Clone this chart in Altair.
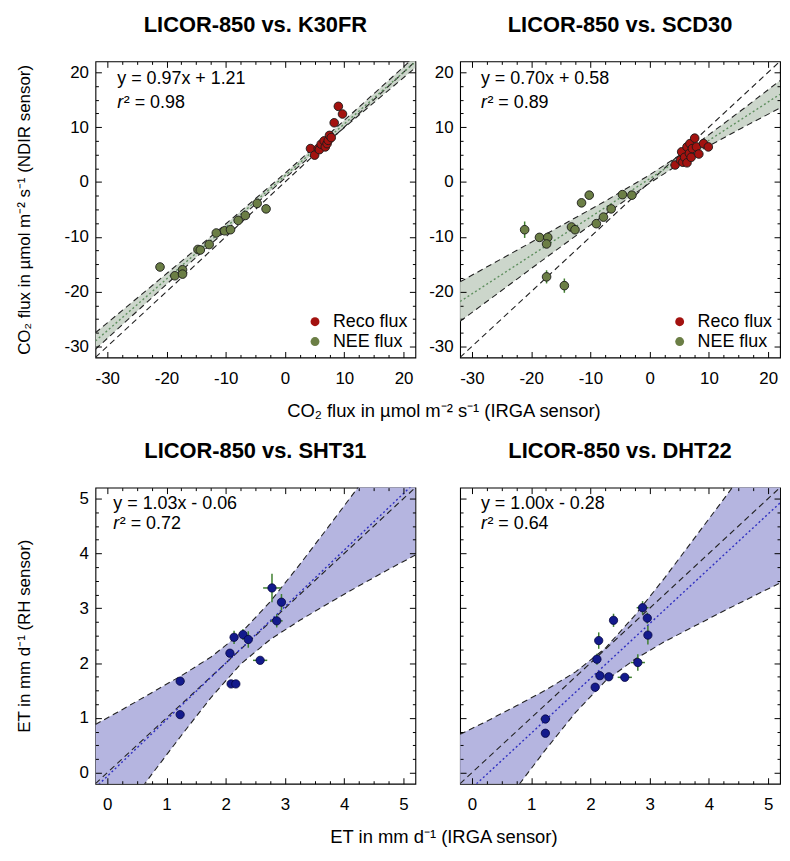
import altair as alt
import pandas as pd

FONT = "Liberation Sans"

# ---------------- data ----------------
# Top-left: LICOR-850 vs. K30FR
k30_nee_x = [-21.1, -18.6, -17.3, -17.3, -14.7, -14.3, -12.8, -11.6, -10.2, -9.2, -7.9, -6.7, -4.7, -3.2]
k30_nee_y = [-15.5, -17.1, -16.0, -16.8, -12.3, -12.4, -11.4, -9.3, -8.9, -8.7, -7.0, -6.1, -3.9, -4.9]
k30_reco_x = [4.3, 5.0, 5.6, 5.8, 6.1, 6.6, 6.8, 7.1, 7.3, 7.5, 7.8, 8.3, 9.0, 9.7]
k30_reco_y = [6.1, 4.9, 6.1, 5.9, 6.9, 7.5, 6.4, 7.0, 7.6, 8.5, 8.1, 10.8, 13.8, 12.4]
k30_band_x = [-32, -24, -16, -8, 0, 8, 16, 22]
k30_band_lo = [-30.5, -22.61, -14.72, -6.93, 0.71, 8.10, 15.39, 20.85]
k30_band_hi = [-27.5, -20.31, -13.12, -5.83, 1.61, 9.30, 17.09, 22.95]
k30_fit_x = [-32, 22]
k30_fit_y = [-29.0, 21.9]

# Top-right: LICOR-850 vs. SCD30
scd_nee_x = [-21.1, -18.6, -17.2, -17.4, -17.4, -14.4, -13.2, -12.6, -11.5, -10.2, -9.0, -7.8, -6.5, -4.6, -3.0]
scd_nee_y = [-8.7, -10.1, -10.1, -11.3, -17.3, -18.9, -8.2, -8.7, -3.8, -2.4, -7.6, -6.4, -4.9, -2.3, -2.4]
scd_nee_yerr = [1.5, 0, 0, 0.6, 1.2, 1.3, 0, 0, 0, 0, 0, 0, 0.4, 0, 0.5]
scd_reco_x = [4.3, 5.2, 5.4, 5.6, 5.9, 6.3, 6.3, 6.7, 6.8, 7.0, 7.2, 7.6, 7.9, 8.3, 9.1, 9.9]
scd_reco_y = [3.1, 4.0, 5.5, 3.6, 4.5, 3.5, 6.4, 5.2, 7.0, 4.5, 6.1, 8.0, 6.4, 5.1, 7.0, 6.4]
scd_band_x = [-32, -24, -16, -8, 0, 8, 16, 22]
scd_band_lo = [-25.4, -19.0, -12.6, -6.3, -0.2, 5.4, 10.1, 13.5]
scd_band_hi = [-18.2, -13.4, -8.6, -3.8, 1.3, 7.0, 13.5, 18.5]
scd_fit_x = [-32, 22]
scd_fit_y = [-21.8, 16.0]

# Bottom-left: LICOR-850 vs. SHT31
sht_x = [1.23, 1.23, 2.07, 2.14, 2.09, 2.17, 2.29, 2.38, 2.58, 2.78, 2.94, 2.86]
sht_y = [1.67, 1.06, 2.18, 2.47, 1.62, 1.62, 2.52, 2.43, 2.05, 3.37, 3.11, 2.77]
sht_xerr = [0.07, 0, 0, 0.04, 0, 0, 0.04, 0, 0.12, 0.15, 0.04, 0.1]
sht_yerr = [0.05, 0, 0.03, 0.12, 0, 0, 0.1, 0.15, 0.04, 0.26, 0.15, 0.12]
et_band_x = [-0.2, 0.25, 0.75, 1.25, 1.75, 2.25, 2.75, 3.25, 3.75, 4.25, 4.75, 5.2]
sht_band_lo = [-1.42, -0.76, -0.03, 0.68, 1.37, 1.98, 2.43, 2.78, 3.10, 3.41, 3.71, 3.97]
sht_band_hi = [0.88, 1.15, 1.46, 1.77, 2.11, 2.54, 3.12, 3.80, 4.51, 5.23, 5.96, 6.62]
sht_fit_x = [-0.2, 5.2]
sht_fit_y = [-0.27, 5.30]

# Bottom-right: LICOR-850 vs. DHT22
dht_x = [1.24, 1.24, 2.11, 2.14, 2.08, 2.16, 2.31, 2.39, 2.58, 2.80, 2.88, 2.96, 2.97]
dht_y = [0.98, 0.72, 2.07, 2.41, 1.56, 1.77, 1.75, 2.78, 1.74, 2.01, 3.01, 2.82, 2.51]
dht_xerr = [0.08, 0, 0.03, 0.03, 0, 0, 0, 0, 0.12, 0.12, 0.1, 0.05, 0.05]
dht_yerr = [0.04, 0, 0.1, 0.15, 0, 0.05, 0, 0.12, 0, 0.15, 0.12, 0.1, 0.17]
dht_band_lo = [-1.66, -1.00, -0.28, 0.43, 1.10, 1.67, 2.07, 2.39, 2.67, 2.95, 3.22, 3.46]
dht_band_hi = [0.70, 0.94, 1.22, 1.51, 1.84, 2.27, 2.87, 3.55, 4.27, 4.99, 5.72, 6.38]
dht_fit_x = [-0.2, 5.2]
dht_fit_y = [-0.48, 4.92]

co2_dom = [-32, 22]
co2_major = [-30, -20, -10, 0, 10, 20]
co2_minor = [-27.5, -25, -22.5, -17.5, -15, -12.5, -7.5, -5, -2.5, 2.5, 5, 7.5, 12.5, 15, 17.5]
et_dom = [-0.2, 5.2]
et_major = [0, 1, 2, 3, 4, 5]
et_minor = [0.25, 0.5, 0.75, 1.25, 1.5, 1.75, 2.25, 2.5, 2.75, 3.25, 3.5, 3.75,
            4.25, 4.5, 4.75]

W, H = 322, 298
LBL = 17
CO2_TXT = "CO\u2082 flux in  \u00b5mol m\u207b\u00b2 s\u207b\u00b9"
ET_TXT = "ET in mm d\u207b\u00b9"


def axis_layers(df, dom, major, minor, ylabels, ytitle):
    sc = alt.Scale(domain=dom, nice=False, zero=False)
    common = dict(domain=False, grid=False, tickColor="black", tickWidth=1,
                  labelColor="black", labelFont=FONT, labelFontSize=LBL, zindex=1)

    def ax(orient, vals, size, **kw):
        d = dict(common)
        d.update(kw)
        return alt.Axis(orient=orient, values=vals, offset=-size, tickSize=size, **d)

    lab_expr = "'' + datum.value"
    lay = []
    lay.append(alt.Chart(df).mark_point(opacity=0).encode(
        x=alt.X("x:Q", scale=sc, axis=ax("bottom", major, 6, labels=True, labelExpr=lab_expr,
                                          labelPadding=13, title=None, minExtent=34, maxExtent=34,
                                          labelFlush=False, labelOverlap=False)),
        y=alt.Y("y:Q", scale=sc, axis=ax("left", major, 6, labels=ylabels, labelExpr=lab_expr,
                                          labelPadding=7, title=ytitle, titleFont=FONT,
                                          titleFontSize=17, titleFontWeight="normal",
                                          titleColor="black", titlePadding=28,
                                          minExtent=40, maxExtent=40, labelFlush=False,
                                          labelOverlap=False)),
    ))
    lay.append(alt.Chart(df).mark_point(opacity=0).encode(
        x=alt.X("x:Q", scale=sc, axis=ax("top", major, 6, labels=False, title=None,
                                          minExtent=0, maxExtent=0)),
        y=alt.Y("y:Q", scale=sc, axis=ax("right", major, 6, labels=False, title=None,
                                          minExtent=0, maxExtent=0)),
    ))
    lay.append(alt.Chart(df).mark_point(opacity=0).encode(
        x=alt.X("x:Q", scale=sc, axis=ax("bottom", minor, 3, labels=False, title=None,
                                          minExtent=0, maxExtent=0)),
        y=alt.Y("y:Q", scale=sc, axis=ax("left", minor, 3, labels=False, title=None,
                                          minExtent=0, maxExtent=0)),
    ))
    lay.append(alt.Chart(df).mark_point(opacity=0).encode(
        x=alt.X("x:Q", scale=sc, axis=ax("top", minor, 3, labels=False, title=None,
                                          minExtent=0, maxExtent=0)),
        y=alt.Y("y:Q", scale=sc, axis=ax("right", minor, 3, labels=False, title=None,
                                          minExtent=0, maxExtent=0)),
    ))
    return lay


def panel(title, dom, major, minor, pts, band, fit, eq, r2, band_color, fit_color,
          ylabels, ytitle, legend, eq_x, eq_y1, eq_y2):
    sc = alt.Scale(domain=dom, nice=False, zero=False)
    layers = []
    layers.append(alt.Chart(band).mark_area(color=band_color, opacity=1, clip=True).encode(
        x=alt.X("x:Q", scale=sc, axis=None),
        y=alt.Y("lo:Q", scale=sc, axis=None), y2="hi:Q"))
    for f in ["lo", "hi"]:
        layers.append(alt.Chart(band).mark_line(color="#222222", strokeWidth=1.1,
                                                strokeDash=[6, 4], clip=True).encode(
            x=alt.X("x:Q", scale=sc, axis=None), y=alt.Y(f + ":Q", scale=sc, axis=None)))
    one = pd.DataFrame({"x": dom, "y": dom})
    layers.append(alt.Chart(one).mark_line(color="#222222", strokeWidth=1.1,
                                           strokeDash=[6, 4], clip=True).encode(
        x=alt.X("x:Q", scale=sc, axis=None), y=alt.Y("y:Q", scale=sc, axis=None)))
    layers.append(alt.Chart(fit).mark_line(color=fit_color, strokeWidth=1.4,
                                           strokeDash=[2, 2.5], clip=True).encode(
        x=alt.X("x:Q", scale=sc, axis=None), y=alt.Y("y:Q", scale=sc, axis=None)))
    ey = pts[pts["yerr"] > 0].copy()
    ey["y1"] = ey["y"] - ey["yerr"]
    ey["y2"] = ey["y"] + ey["yerr"]
    ex = pts[pts["xerr"] > 0].copy()
    ex["x1"] = ex["x"] - ex["xerr"]
    ex["x2"] = ex["x"] + ex["xerr"]
    if len(ey):
        layers.append(alt.Chart(ey).mark_rule(color="#3f7f2f", strokeWidth=1.5).encode(
            x=alt.X("x:Q", scale=sc, axis=None), y=alt.Y("y1:Q", scale=sc, axis=None), y2="y2:Q"))
    if len(ex):
        layers.append(alt.Chart(ex).mark_rule(color="#3f7f2f", strokeWidth=1.5).encode(
            x=alt.X("x1:Q", scale=sc, axis=None), x2="x2:Q", y=alt.Y("y:Q", scale=sc, axis=None)))
    if legend:
        color = alt.Color("type:N",
                          scale=alt.Scale(domain=["Reco flux", "NEE flux"],
                                          range=["#a3120f", "#6b7e45"]),
                          legend=alt.Legend(orient="bottom-right", title=None, labelFont=FONT,
                                            labelFontSize=18, labelColor="black",
                                            symbolType="circle", symbolSize=80,
                                            symbolStrokeWidth=0, symbolOpacity=1,
                                            offset=7, padding=0, rowPadding=2,
                                            labelOffset=9))
        layers.append(alt.Chart(pts).mark_circle(size=75, opacity=1, stroke="#1a1a1a",
                                                 strokeWidth=0.9).encode(
            x=alt.X("x:Q", scale=sc, axis=None), y=alt.Y("y:Q", scale=sc, axis=None),
            color=color))
    else:
        layers.append(alt.Chart(pts).mark_circle(size=70, opacity=1, color="#131a8c",
                                                 stroke="#050540", strokeWidth=0.8).encode(
            x=alt.X("x:Q", scale=sc, axis=None), y=alt.Y("y:Q", scale=sc, axis=None)))
    one_row = pd.DataFrame({"a": [eq], "b": [r2]})
    layers.append(alt.Chart(one_row).mark_text(align="left", baseline="alphabetic", font=FONT,
                                               fontSize=18, color="black").encode(
        x=alt.value(eq_x), y=alt.value(eq_y1), text="a:N"))
    layers.append(alt.Chart(one_row).mark_text(align="left", baseline="alphabetic", font=FONT,
                                               fontSize=18, fontStyle="italic",
                                               color="black").encode(
        x=alt.value(eq_x), y=alt.value(eq_y2), text=alt.value("r")))
    layers.append(alt.Chart(one_row).mark_text(align="left", baseline="alphabetic", font=FONT,
                                               fontSize=18, color="black").encode(
        x=alt.value(eq_x + 6.5), y=alt.value(eq_y2), text="b:N"))
    layers += axis_layers(pts, dom, major, minor, ylabels, ytitle)
    return alt.layer(*layers).resolve_axis(x="independent", y="independent").properties(
        width=W, height=H,
        title=alt.TitleParams(title, font=FONT, fontSize=22, fontWeight="bold", color="black",
                              anchor="middle", frame="group", baseline="alphabetic",
                              offset=7))


def co2_pts(nx, ny, rx, ry, nyerr=None):
    n = len(nx)
    r = len(rx)
    return pd.DataFrame({
        "x": rx + nx, "y": ry + ny,
        "type": ["Reco flux"] * r + ["NEE flux"] * n,
        "xerr": [0.0] * (r + n),
        "yerr": [0.0] * r + (nyerr if nyerr else [0.0] * n),
    })


def band_df(bx, lo, hi):
    return pd.DataFrame({"x": bx, "lo": lo, "hi": hi})


def fit_df(fx, fy):
    return pd.DataFrame({"x": fx, "y": fy})


TOP_BAND = "#ccd6cb"
TOP_FIT = "#5f8f5f"
BOT_BAND = "#b5b5e0"
BOT_FIT = "#2f2fc0"

tl = panel("LICOR-850 vs. K30FR", co2_dom, co2_major, co2_minor,
           co2_pts(k30_nee_x, k30_nee_y, k30_reco_x, k30_reco_y),
           band_df(k30_band_x, k30_band_lo, k30_band_hi), fit_df(k30_fit_x, k30_fit_y),
           "y = 0.97x + 1.21", "\u00b2 = 0.98", TOP_BAND, TOP_FIT, True,
           CO2_TXT + " (NDIR sensor)", True, 22, 23, 47)
tr = panel("LICOR-850 vs. SCD30", co2_dom, co2_major, co2_minor,
           co2_pts(scd_nee_x, scd_nee_y, scd_reco_x, scd_reco_y, scd_nee_yerr),
           band_df(scd_band_x, scd_band_lo, scd_band_hi), fit_df(scd_fit_x, scd_fit_y),
           "y = 0.70x + 0.58", "\u00b2 = 0.89", TOP_BAND, TOP_FIT, True,
           None, True, 21, 23, 47)

sht_pts = pd.DataFrame({"x": sht_x, "y": sht_y, "xerr": sht_xerr, "yerr": sht_yerr})
dht_pts = pd.DataFrame({"x": dht_x, "y": dht_y, "xerr": dht_xerr, "yerr": dht_yerr})

bl = panel("LICOR-850 vs. SHT31", et_dom, et_major, et_minor, sht_pts,
           band_df(et_band_x, sht_band_lo, sht_band_hi), fit_df(sht_fit_x, sht_fit_y),
           "y = 1.03x - 0.06", "\u00b2 = 0.72", BOT_BAND, BOT_FIT, True,
           ET_TXT + " (RH sensor)", False, 18, 22, 42)
br = panel("LICOR-850 vs. DHT22", et_dom, et_major, et_minor, dht_pts,
           band_df(et_band_x, dht_band_lo, dht_band_hi), fit_df(dht_fit_x, dht_fit_y),
           "y = 1.00x - 0.28", "\u00b2 = 0.64", BOT_BAND, BOT_FIT, False,
           None, False, 21, 22, 42)

row_title = dict(font=FONT, fontSize=18.5, fontWeight="normal", color="black",
                 orient="bottom", anchor="middle", baseline="top", offset=15, dx=46)

top = alt.hconcat(tl, tr, spacing=8).resolve_scale(color="independent").resolve_legend(
    color="independent").properties(title=alt.TitleParams(CO2_TXT + " (IRGA sensor)", **row_title))
bottom = alt.hconcat(bl, br, spacing=8).properties(
    title=alt.TitleParams(ET_TXT + " (IRGA sensor)", **row_title))

chart = alt.vconcat(top, bottom, spacing=18).configure(
    padding={"left": 7, "top": 2, "right": 0, "bottom": 0}, font=FONT
).configure_view(stroke="black", strokeWidth=1.1)

chart.save("out.html", embed_options={"renderer": "svg", "actions": False})
